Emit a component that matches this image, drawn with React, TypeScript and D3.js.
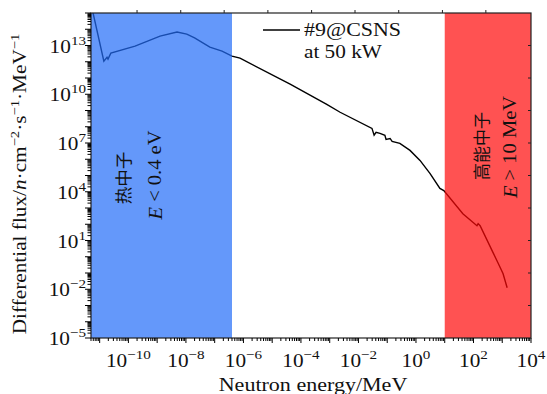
import React from "react";
import * as d3 from "d3";

// Neutron energy (MeV) and differential flux (n·cm^-2·s^-1·MeV^-1)
const energyMeV = [
  4.5e-12, 5.9e-12, 1.4e-11, 1.8e-11, 1.95e-11, 2.45e-11, 1.7e-10, 1.26e-9, 4.9e-9,
  1.07e-8, 2.0e-8, 6.8e-8, 1.8e-7, 4.0e-7, 7.6e-7, 4.2e-5, 7.9e-4, 2.3e-3, 2.95e-2,
  3.5e-2, 4.1e-2, 5.6e-2, 8.3e-2, 9.1e-2, 0.126, 0.148, 0.275, 0.62, 1.38, 3.1, 6.8,
  9.3, 42.7, 132, 145, 170, 479, 708, 1070, 1480,
];
const fluxValues = [
  2.5e15, 1.0e15, 1.1e12, 1.9e12, 1.45e12, 3.4e12, 9.1e12, 3.8e13, 6.8e13,
  5.0e13, 2.9e13, 7.9e12, 4.5e12, 2.2e12, 1.66e12, 4.2e10, 2.4e9, 7.8e8, 7.9e7,
  3.0e7, 4.5e7, 3.9e7, 3.0e7, 1.66e7, 1.9e7, 1.26e7, 9.5e6, 3.5e6, 8.5e5, 1.3e5, 1.6e4,
  1.17e4, 447, 81, 110, 81, 1.8, 0.43, 0.089, 0.0123,
];

const xTickExps = [-10, -8, -6, -4, -2, 0, 2, 4];
const yTickExps = [-5, -2, 1, 4, 7, 10, 13];
const topTickExps = [-9.7, -8.18, -6.67, -5.15, -3.63, -2.12, -0.6, 0.92, 2.43];
const rightTickExps = [-3, -1, 1, 3, 5, 7, 9, 11, 13];

const thermalMaxMeV = 4e-7; // 0.4 eV
const fastMinMeV = 10;
const legendLines = ["#9@CSNS", "at 50 kW"];
const xTitle = "Neutron energy/MeV";

const L = 91, R = 531, T = 13, B = 338;
const SERIF = "'Liberation Serif', 'DejaVu Serif', serif";
const CJK = "'Noto Sans CJK SC', sans-serif";
const MINUS = "\u2212";

function expLabel(e: number) {
  return e < 0 ? MINUS + Math.abs(e) : String(e);
}

export default function App() {
  const x = d3.scaleLog().domain([5e-12, 1e4]).range([L, R]);
  const y = d3.scaleLog().domain([1e-5, 1e15]).range([B, T]);
  const pts = energyMeV.map((e, i) => [e, fluxValues[i]] as [number, number]);
  const line = d3
    .line<[number, number]>()
    .x((d) => x(d[0]))
    .y((d) => y(d[1]));

  const xMinor: { v: number; major: boolean }[] = [];
  for (let d = -12; d <= 4; d++) {
    for (let k = 1; k <= 9; k++) {
      const v = k * Math.pow(10, d);
      if (v >= 5e-12 && v <= 1e4 * 1.0001) xMinor.push({ v, major: k === 1 });
    }
  }
  const yMinor: { v: number; major: boolean }[] = [];
  for (let d = -5; d <= 15; d++) {
    for (let k = 1; k <= 9; k++) {
      const v = k * Math.pow(10, d);
      if (v >= 1e-5 * 0.9999 && v <= 1e15 * 1.0001) yMinor.push({ v, major: k === 1 });
    }
  }

  const fs = 19;
  const sx = 1.12;

  return (
    <svg
      width={547}
      height={394}
      style={{ position: "absolute", left: 0, top: 0, background: "#fff" }}
      fontFamily={SERIF}
    >
      <defs>
        <clipPath id="plotclip">
          <rect x={L} y={T} width={R - L} height={B - T} />
        </clipPath>
      </defs>
      <g clipPath="url(#plotclip)">
        <path d={line(pts) || ""} fill="none" stroke="#000" strokeWidth={1.4} />
        <rect
          x={L}
          y={T}
          width={x(thermalMaxMeV) - L}
          height={B - T}
          fill="rgb(34,108,248)"
          opacity={0.7}
        />
        <rect
          x={x(fastMinMeV)}
          y={T}
          width={R - x(fastMinMeV)}
          height={B - T}
          fill="rgb(255,8,8)"
          opacity={0.7}
        />
      </g>

      {/* frame */}
      <rect x={L} y={T} width={R - L} height={B - T} fill="none" stroke="#222" strokeWidth={1.2} />

      {/* bottom ticks */}
      {xMinor.map((t, i) => (
        <line key={"xb" + i} x1={x(t.v)} x2={x(t.v)} y1={B} y2={B + (t.major ? 5 : 3)} stroke="#000" strokeWidth={1} />
      ))}
      {/* left ticks */}
      {yMinor.map((t, i) => (
        <line key={"yl" + i} x1={L} x2={L - (t.major ? 6 : 3.5)} y1={y(t.v)} y2={y(t.v)} stroke="#000" strokeWidth={1} />
      ))}
      {/* top ticks */}
      {topTickExps.map((e, i) => (
        <line key={"xt" + i} x1={x(Math.pow(10, e))} x2={x(Math.pow(10, e))} y1={T} y2={T - 3} stroke="#222" strokeWidth={1} />
      ))}
      {/* right ticks */}
      {rightTickExps.map((e, i) => (
        <line key={"yr" + i} x1={R} x2={R - 3} y1={y(Math.pow(10, e))} y2={y(Math.pow(10, e))} stroke="#222" strokeWidth={1} />
      ))}

      {/* x tick labels */}
      {xTickExps.map((e) => (
        <text
          key={"xl" + e}
          transform={`translate(${x(Math.pow(10, e))},367) scale(${sx},1)`}
          textAnchor="middle"
          fontSize={fs}
          fill="#111"
        >
          10
          <tspan dy={-8} fontSize={13.5}>
            {expLabel(e)}
          </tspan>
        </text>
      ))}
      {/* y tick labels */}
      {yTickExps.map((e) => (
        <text
          key={"yl" + e}
          transform={`translate(86,${y(Math.pow(10, e)) + 7}) scale(${sx},1)`}
          textAnchor="end"
          fontSize={fs}
          fill="#111"
        >
          10
          <tspan dy={-8} fontSize={13.5}>
            {expLabel(e)}
          </tspan>
        </text>
      ))}

      {/* x title */}
      <text
        transform={`translate(${(L + R) / 2 + 2},391) scale(1.16,1)`}
        textAnchor="middle"
        fontSize={fs}
        fill="#111"
      >
        {xTitle}
      </text>

      {/* y title */}
      <text
        transform={`translate(26,184) rotate(-90) scale(1.12,1)`}
        textAnchor="middle"
        fontSize={19}
        fill="#111"
      >
        Differential flux/
        <tspan fontStyle="italic">n</tspan>·cm
        <tspan dy={-7} fontSize={13}>{MINUS}2</tspan>
        <tspan dy={7}>·s</tspan>
        <tspan dy={-7} fontSize={13}>{MINUS}1</tspan>
        <tspan dy={7}>·MeV</tspan>
        <tspan dy={-7} fontSize={13}>{MINUS}1</tspan>
      </text>

      {/* legend */}
      <line x1={263} x2={300} y1={30} y2={30} stroke="#000" strokeWidth={1.5} />
      <text transform={`translate(304,36) scale(1.22,1)`} fontSize={18} fill="#111">
        {legendLines[0]}
      </text>
      <text transform={`translate(304,58) scale(1.18,1)`} fontSize={18} fill="#111">
        {legendLines[1]}
      </text>

      {/* region annotations */}
      <text
        transform="translate(122,178) rotate(-90)"
        textAnchor="middle"
        dominantBaseline="central"
        fontFamily={CJK}
        fontSize={17.5}
        fill="#111"
      >
        热中子
      </text>
      <text
        transform="translate(155,175) rotate(-90) scale(1.14,1)"
        textAnchor="middle"
        dominantBaseline="central"
        fontSize={18}
        fill="#111"
      >
        <tspan fontStyle="italic">E</tspan> &lt; 0.4 eV
      </text>
      <text
        transform="translate(480,146) rotate(-90)"
        textAnchor="middle"
        dominantBaseline="central"
        fontFamily={CJK}
        fontSize={17}
        fill="#111"
      >
        高能中子
      </text>
      <text
        transform="translate(510,147) rotate(-90) scale(1.14,1)"
        textAnchor="middle"
        dominantBaseline="central"
        fontSize={18}
        fill="#111"
      >
        <tspan fontStyle="italic">E</tspan> &gt; 10 MeV
      </text>
    </svg>
  );
}
